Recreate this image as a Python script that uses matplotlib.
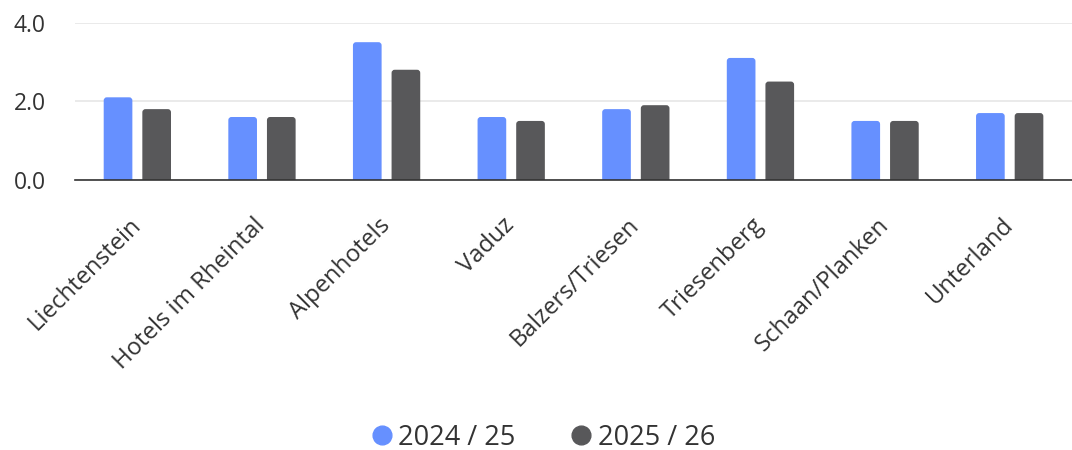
import matplotlib.pyplot as plt
from matplotlib.patches import FancyBboxPatch
import numpy as np

# values
categories = ["Liechtenstein", "Hotels im Rheintal", "Alpenhotels", "Vaduz",
              "Balzers/Triesen", "Triesenberg", "Schaan/Planken", "Unterland"]
season_2024_25 = [2.1, 1.6, 3.5, 1.6, 1.8, 3.1, 1.5, 1.7]
season_2025_26 = [1.8, 1.6, 2.8, 1.5, 1.9, 2.5, 1.5, 1.7]
series_labels = ["2024 / 25", "2025 / 26"]
y_ticks = [0.0, 2.0, 4.0]

blue = "#6690ff"
gray = "#58585a"

plt.rcParams['font.family'] = ['Open Sans', 'DejaVu Sans']

fig = plt.figure(figsize=(10.72, 4.5), dpi=100)
ax = fig.add_axes([0.07, 0.6, 0.93, 0.35])

x = np.arange(len(categories))
w = 0.23
for offset, vals, col in [(-0.155, season_2024_25, blue), (0.155, season_2025_26, gray)]:
    bars = ax.bar(x + offset, vals, w, color=col)
    # swap plain rectangles for slightly rounded ones
    for r in bars:
        r.set_visible(False)
        p = FancyBboxPatch((r.get_x(), -0.2), r.get_width(), r.get_height() + 0.2,
                           boxstyle="round,pad=0,rounding_size=0.025",
                           mutation_aspect=3.2, facecolor=col, edgecolor="none",
                           zorder=3)
        ax.add_patch(p)

ax.set_xlim(-0.5, len(categories) - 0.5)
ax.set_ylim(0, 4)
ax.set_yticks(y_ticks)
ax.set_yticklabels([f"{v:.1f}" for v in y_ticks], fontsize=16.5, color="#333333")
ax.yaxis.grid(True, color="#e6e6e6", linewidth=1.2, zorder=0)
ax.set_xticks(x)
ax.set_xticklabels(categories, rotation=45, ha="right", va="center",
                   rotation_mode="anchor", fontsize=17.2, color="#333333")
ax.tick_params(axis="both", length=0)
ax.tick_params(axis="x", pad=30)
ax.tick_params(axis="y", pad=21)
for s in ["top", "right", "left"]:
    ax.spines[s].set_visible(False)
ax.spines["bottom"].set_color("#333333")
ax.spines["bottom"].set_linewidth(1.2)
ax.spines["bottom"].set_zorder(4)

handles = [plt.Line2D([], [], marker="o", linestyle="", markersize=13.5, color=c)
           for c in (blue, gray)]
fig.legend(handles, series_labels, loc="center", bbox_to_anchor=(0.507, 0.027),
           ncol=2, frameon=False, fontsize=19.5, handlelength=0.7, handletextpad=0.25,
           columnspacing=2.1, labelcolor="#333333")

fig.savefig("out.png", dpi=100)
